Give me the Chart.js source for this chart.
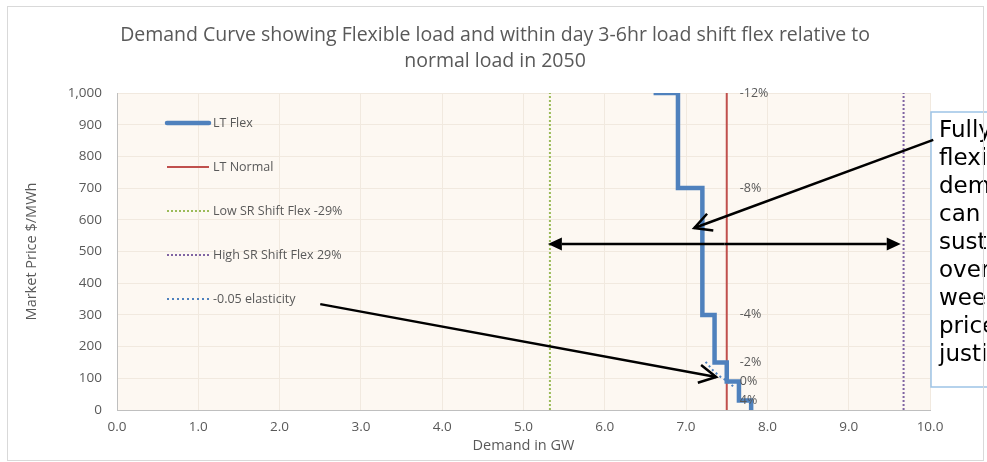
<!DOCTYPE html>
<html>
<head>
<meta charset="utf-8">
<title>Demand Curve</title>
<script src="https://cdn.jsdelivr.net/npm/chart.js@4.4.1/dist/chart.umd.min.js"></script>
<style>
    html, body { margin: 0; padding: 0; background: #ffffff; }
    #wrap { width: 987px; height: 462px; position: relative; }
</style>
</head>
<body>
<div id="wrap"><canvas id="demandChart" width="987" height="462"></canvas></div>
<script>
// --- data (demand in GW, price in $/MWh) ---
var flexDemand = [6.6, 6.9, 6.9, 7.2, 7.2, 7.35, 7.35, 7.5, 7.5, 7.65, 7.65, 7.8, 7.8];
var flexPrice = [1000, 1000, 700, 700, 300, 300, 150, 150, 90, 90, 30, 30, 0];
var normalDemand = [7.5, 7.5];
var normalPrice = [0, 1000];
var lowShiftDemand = [5.325, 5.325];
var highShiftDemand = [9.675, 9.675];
var shiftPrice = [0, 1000];
var elasticDemand = [7.24, 7.33, 7.42, 7.5, 7.6];
var elasticPrice = [152, 125, 105, 92, 70];
var pctLabels = ['-12%', '-8%', '-4%', '-2%', '0%', '4%'];
var pctPrices = [1000, 700, 300, 150, 90, 30];
var pctDemand = 7.5;
var seriesNames = ['LT Flex', 'LT Normal', 'Low SR Shift Flex -29%', 'High SR Shift Flex 29%', '-0.05 elasticity'];
var titleLines = ['Demand Curve showing Flexible load and within day 3-6hr load shift flex relative to', 'normal load in 2050'];
var noteLines = ['Fully', 'flexible', 'demand', 'can be', 'sustained', 'over a', 'week if', 'price', 'justifies'];

var TEXT = '#595959';
var FONT = '"Open Sans", "Noto Sans", sans-serif';

function pts(xs, ys) {
    return xs.map(function (x, i) { return { x: x, y: ys[i] }; });
}

function arrow(ctx, x1, y1, x2, y2, filled) {
    var a = Math.atan2(y2 - y1, x2 - x1);
    var len = filled ? 14 : 17, half = filled ? 6.5 : 9;
    var bx = x2 - len * Math.cos(a), by = y2 - len * Math.sin(a);
    var px = -Math.sin(a) * half, py = Math.cos(a) * half;
    ctx.beginPath();
    ctx.moveTo(x1, y1);
    ctx.lineTo(filled ? bx : x2, filled ? by : y2);
    ctx.stroke();
    ctx.beginPath();
    if (filled) {
        ctx.moveTo(x2, y2);
        ctx.lineTo(bx + px, by + py);
        ctx.lineTo(bx - px, by - py);
        ctx.closePath();
        ctx.fill();
    } else {
        ctx.moveTo(bx + px, by + py);
        ctx.lineTo(x2, y2);
        ctx.lineTo(bx - px, by - py);
        ctx.stroke();
    }
}

var backdrop = {
    id: 'backdrop',
    beforeDraw: function (chart) {
        var ctx = chart.ctx, a = chart.chartArea;
        ctx.save();
        ctx.fillStyle = '#ffffff';
        ctx.fillRect(0, 0, chart.width, chart.height);
        ctx.fillStyle = '#FDF8F2';
        ctx.fillRect(a.left, a.top, a.right - a.left, a.bottom - a.top);
        ctx.fillStyle = TEXT;
        ctx.font = '19.5px ' + FONT;
        ctx.textAlign = 'center';
        ctx.textBaseline = 'middle';
        ctx.fillText(titleLines[0], 495, 35);
        ctx.fillText(titleLines[1], 495, 61);
        ctx.restore();
    }
};

var extras = {
    id: 'extras',
    afterDraw: function (chart) {
        var ctx = chart.ctx, xs = chart.scales.x, ys = chart.scales.y, a = chart.chartArea;
        ctx.save();

        // percentage labels beside the normal load line
        ctx.fillStyle = TEXT;
        ctx.font = '12.5px ' + FONT;
        ctx.textAlign = 'left';
        ctx.textBaseline = 'middle';
        pctLabels.forEach(function (t, i) {
            ctx.fillText(t, xs.getPixelForValue(pctDemand) + 13, ys.getPixelForValue(pctPrices[i]));
        });

        // legend inside the plot
        chart.data.datasets.forEach(function (ds, i) {
            var y = a.top + 30 + i * 44;
            ctx.save();
            ctx.strokeStyle = ds.borderColor;
            ctx.lineWidth = ds.borderWidth;
            ctx.lineCap = i === 0 ? 'round' : 'butt';
            ctx.setLineDash(ds.borderDash || []);
            ctx.beginPath();
            ctx.moveTo(a.left + 50, y);
            ctx.lineTo(a.left + 92, y);
            ctx.stroke();
            ctx.restore();
            ctx.fillText(ds.label, a.left + 96, y);
        });

        // note box
        var bx = a.right + 1, by = 112;
        ctx.fillStyle = '#ffffff';
        ctx.fillRect(bx, by, 200, 275);
        ctx.strokeStyle = '#9DC3E6';
        ctx.lineWidth = 1.5;
        ctx.strokeRect(bx, by, 200, 275);
        ctx.fillStyle = '#000000';
        ctx.font = '23px "DejaVu Sans", Verdana, sans-serif';
        ctx.textAlign = 'left';
        noteLines.forEach(function (t, i) {
            ctx.fillText(t, bx + 8, by + 19 + i * 28);
        });

        // arrows
        ctx.strokeStyle = '#000000';
        ctx.fillStyle = '#000000';
        ctx.lineWidth = 2.5;
        arrow(ctx, xs.getPixelForValue(10.04), ys.getPixelForValue(852),
            xs.getPixelForValue(7.1), ys.getPixelForValue(574), false);
        var yr = ys.getPixelForValue(524);
        var xl = xs.getPixelForValue(5.3), xr = xs.getPixelForValue(9.64);
        arrow(ctx, (xl + xr) / 2, yr, xr, yr, true);
        arrow(ctx, (xl + xr) / 2, yr, xl, yr, true);
        arrow(ctx, xs.getPixelForValue(2.5), ys.getPixelForValue(334),
            xs.getPixelForValue(7.37), ys.getPixelForValue(104), false);

        // outer chart border
        ctx.strokeStyle = '#D9D9D9';
        ctx.lineWidth = 1;
        ctx.strokeRect(7.5, 6.5, 976, 454);
        ctx.restore();
    }
};

new Chart(document.getElementById('demandChart'), {
    type: 'scatter',
    data: {
        datasets: [
            {
                label: seriesNames[0],
                data: pts(flexDemand, flexPrice),
                showLine: true,
                borderColor: '#4F81BD',
                borderWidth: 4.5,
                borderJoinStyle: 'miter',
                pointRadius: 0,
                order: 1
            },
            {
                label: seriesNames[1],
                data: pts(normalDemand, normalPrice),
                showLine: true,
                borderColor: '#C0504D',
                borderWidth: 2,
                pointRadius: 0,
                order: 2
            },
            {
                label: seriesNames[2],
                data: pts(lowShiftDemand, shiftPrice),
                showLine: true,
                borderColor: '#9BBB59',
                borderWidth: 2,
                borderDash: [2, 2],
                pointRadius: 0,
                order: 3
            },
            {
                label: seriesNames[3],
                data: pts(highShiftDemand, shiftPrice),
                showLine: true,
                borderColor: '#8064A2',
                borderWidth: 2,
                borderDash: [2, 2],
                pointRadius: 0,
                order: 4
            },
            {
                label: seriesNames[4],
                data: pts(elasticDemand, elasticPrice),
                showLine: true,
                borderColor: '#4F81BD',
                borderWidth: 2,
                borderDash: [2, 3],
                pointRadius: 0,
                order: 0
            }
        ]
    },
    options: {
        responsive: false,
        animation: false,
        layout: { padding: { left: 0, top: 93, right: 57, bottom: 0 } },
        plugins: {
            legend: { display: false },
            tooltip: { enabled: false }
        },
        scales: {
            x: {
                type: 'linear',
                min: 0,
                max: 10,
                afterFit: function (s) { s.height = 52; },
                ticks: {
                    stepSize: 1,
                    padding: 9,
                    color: TEXT,
                    font: { family: FONT, size: 13.5 },
                    callback: function (v) { return v.toFixed(1); }
                },
                grid: { color: '#F1E9DF', drawTicks: false },
                border: { color: '#BFBFBF', width: 1 },
                title: {
                    display: true,
                    text: 'Demand in GW',
                    color: TEXT,
                    font: { family: FONT, size: 14.5 },
                    padding: { top: 0, bottom: 7 }
                }
            },
            y: {
                min: 0,
                max: 1000,
                afterFit: function (s) { s.width = 117; },
                ticks: {
                    stepSize: 100,
                    padding: 15,
                    color: TEXT,
                    font: { family: FONT, size: 13.5 },
                    callback: function (v) { return v.toLocaleString('en-US'); }
                },
                grid: { color: '#F1E9DF', drawTicks: false },
                border: { color: '#BFBFBF', width: 1 },
                title: {
                    display: true,
                    text: 'Market Price $/MWh',
                    color: TEXT,
                    font: { family: FONT, size: 14.5 },
                    padding: { top: 23, bottom: 0 }
                }
            }
        }
    },
    plugins: [backdrop, extras]
});
</script>
</body>
</html>
